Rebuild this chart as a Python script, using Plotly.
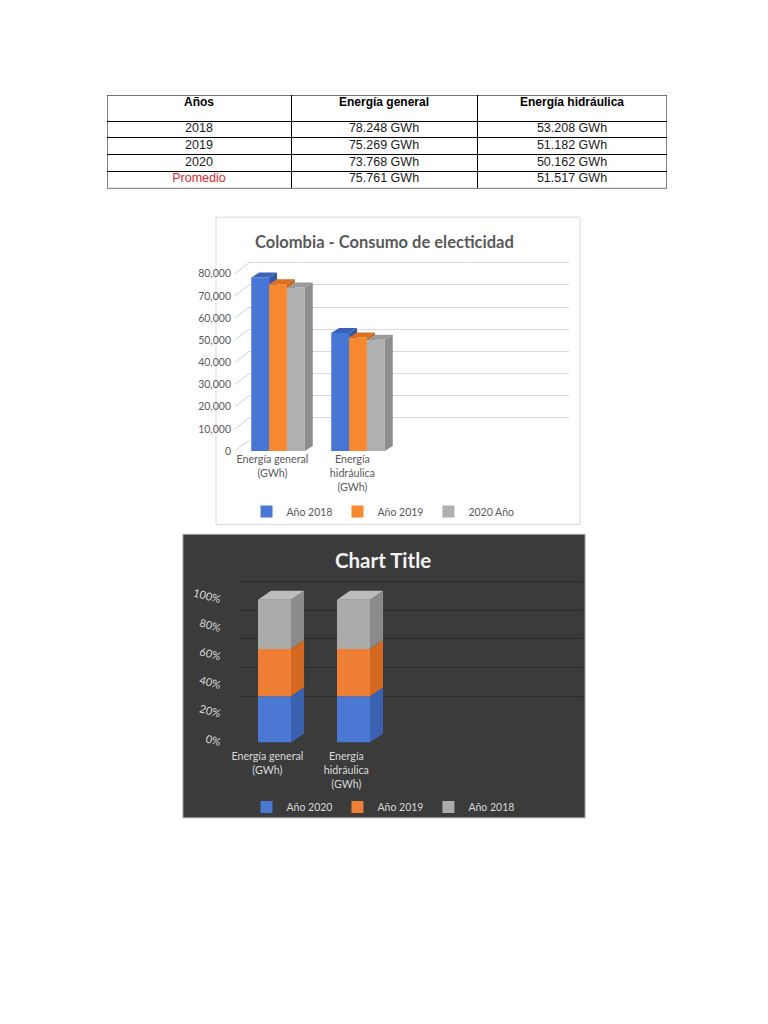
import plotly.graph_objects as go

# the page puts the plot 8px in from the corner, so map page pixels to figure pixels
OX, OY = 8, 7
W, H = 760, 1016


def px(x):
    return (x - OX) / W


def py(y):
    return 1 - (y - OY) / H


# ---- data ----
columnas = ["Años", "Energía general", "Energía hidráulica"]
anios = ["2018", "2019", "2020", "Promedio"]
energia_general = ["78.248 GWh", "75.269 GWh", "73.768 GWh", "75.761 GWh"]
energia_hidraulica = ["53.208 GWh", "51.182 GWh", "50.162 GWh", "51.517 GWh"]

categorias = ["Energía general<br>(GWh)", "Energía<br>hidráulica<br>(GWh)"]
consumo_general = [78248, 75269, 73768]      # 2018, 2019, 2020
consumo_hidraulica = [53208, 51182, 50162]   # 2018, 2019, 2020

nombres_chart1 = ["Año 2018", "Año 2019", "2020 Año"]
nombres_chart2 = ["Año 2020", "Año 2019", "Año 2018"]   # bottom -> top
ticks_chart1 = [0, 10000, 20000, 30000, 40000, 50000, 60000, 70000, 80000]
ticks_chart2 = [0, 20, 40, 60, 80, 100]

# colours: front, top, side
colores1 = [
    ["#4677d6", "#3a63b8", "#3458a6"],
    ["#f7882f", "#dc7020", "#c9641c"],
    ["#b0b0b0", "#9c9c9c", "#8e8e8e"],
]
colores2 = [
    ["#4a78d2", "#3c64b4", "#3a62b0"],
    ["#ef7f34", "#d66c24", "#d46a22"],
    ["#ababab", "#bcbcbc", "#8b8b8b"],
]

chart_font = "Lato"
table_font = "Liberation Sans"
gris_txt = "#595959"
claro_txt = "#d9d9d9"

fig = go.Figure()

# ---- table (text on its own little axis, cell borders are the gridlines) ----
col_w = [184, 186, 190]
row_h = [26, 17, 17, 17, 17]
col_edges = [sum(col_w[:i]) for i in range(len(col_w) + 1)]
row_edges = [sum(row_h[:i]) for i in range(len(row_h) + 1)]
col_mid = [(a + b) / 2 for a, b in zip(col_edges[:-1], col_edges[1:])]
row_mid = [(a + b) / 2 - 0.7 for a, b in zip(row_edges[1:-1], row_edges[2:])]

fig.add_trace(go.Scatter(
    x=col_mid, y=[row_edges[0] + 7.8] * len(columnas),
    text=[f"<b>{c}</b>" for c in columnas], mode="text",
    textfont=dict(family=table_font, size=12, color="black"),
    xaxis="x5", yaxis="y5", showlegend=False, hoverinfo="skip",
))
negro = "#1a1a1a"
rojo = "#e8262a"
for j, col in enumerate([anios, energia_general, energia_hidraulica]):
    fig.add_trace(go.Scatter(
        x=[col_mid[j]] * len(col), y=row_mid, text=col, mode="text",
        textfont=dict(family=table_font, size=12.5,
                      color=[rojo if v == "Promedio" else negro for v in col]),
        xaxis="x5", yaxis="y5", showlegend=False, hoverinfo="skip",
    ))

# ---- chart 1 : clustered 3D-looking columns ----
xs = [0, 1]
valores1 = [list(v) for v in zip(consumo_general, consumo_hidraulica)]
w1 = 0.223
dx1, dy1 = 0.1, 2235
for i, (nombre, vals) in enumerate(zip(nombres_chart1, valores1)):
    off = (i - 1.5) * w1
    front, top, side = colores1[i]
    fig.add_trace(go.Bar(
        x=xs, y=vals, width=w1, offset=off, name=nombre,
        marker=dict(color=front, line_width=0),
        xaxis="x", yaxis="y", legend="legend", zorder=2 * i + 1,
    ))
    tx, ty, sx, sy = [], [], [], []
    for x, v in zip(xs, vals):
        l = x + off
        r = l + w1
        tx += [l, r, r + dx1, l + dx1, l, None]
        ty += [v, v, v + dy1, v + dy1, v, None]
        sx += [r, r, r + dx1, r + dx1, r, None]
        sy += [0, v, v + dy1, dy1, 0, None]
    for fx, fy, fc in [(sx, sy, side), (tx, ty, top)]:
        fig.add_trace(go.Scatter(
            x=fx, y=fy, fill="toself", fillcolor=fc, mode="none",
            showlegend=False, hoverinfo="skip", cliponaxis=False,
            xaxis="x", yaxis="y", zorder=2 * i + 2,
        ))

x1_range = [-(278 - 235) / 80, (560 - 278) / 80]
y1_range = [0, (451 - 255) * 80000 / 179]

# little diagonal edges of the side wall
diag_x, diag_y = [], []
for t in ticks_chart1:
    diag_x += [x1_range[0], x1_range[0] + 14 / 80, None]
    diag_y += [t, t + 11 * 80000 / 179, None]
fig.add_trace(go.Scatter(
    x=diag_x, y=diag_y, mode="lines", line=dict(color="#d0d0d0", width=1),
    showlegend=False, hoverinfo="skip", cliponaxis=False,
    xaxis="x", yaxis="y", zorder=1,
))
# back wall (gridlines only)
fig.add_trace(go.Scatter(x=[], y=[], xaxis="x3", yaxis="y3", showlegend=False))

# ---- chart 2 : 100% stacked 3D-looking columns ----
valores2 = [[g, h] for g, h in zip(consumo_general[::-1], consumo_hidraulica[::-1])]
totales = [sum(v[c] for v in valores2) for c in range(2)]
w2 = 0.418
dx2, dy2 = 0.165, 6.25
bases = [0, 0]
for i, (nombre, vals) in enumerate(zip(nombres_chart2, valores2)):
    pct = [v / t * 100 for v, t in zip(vals, totales)]
    front, top, side = colores2[i]
    fig.add_trace(go.Bar(
        x=xs, y=pct, base=list(bases), width=w2, offset=-w2 / 2, name=nombre,
        marker=dict(color=front, line_width=0),
        xaxis="x2", yaxis="y2", legend="legend2", zorder=2 * i + 1,
    ))
    sx, sy, tx, ty = [], [], [], []
    for x, b, p in zip(xs, bases, pct):
        l = x - w2 / 2
        r = x + w2 / 2
        sx += [r, r, r + dx2, r + dx2, r, None]
        sy += [b, b + p, b + p + dy2, b + dy2, b, None]
        tx += [l, r, r + dx2, l + dx2, l, None]
        ty += [b + p, b + p, b + p + dy2, b + p + dy2, b + p, None]
    faces = [(sx, sy, side)]
    if i == len(valores2) - 1:
        faces.append((tx, ty, top))
    for fx, fy, fc in faces:
        fig.add_trace(go.Scatter(
            x=fx, y=fy, fill="toself", fillcolor=fc, mode="none",
            showlegend=False, hoverinfo="skip", cliponaxis=False,
            xaxis="x2", yaxis="y2", zorder=2 * i + 2,
        ))
    bases = [b + p for b, p in zip(bases, pct)]

fig.add_trace(go.Scatter(x=[], y=[], xaxis="x4", yaxis="y4", showlegend=False))

x2_range = [-(274.5 - 225) / 79, (575 - 274.5) / 79]
y2_range = [0, (745 - 590) / 1.44]

hidden = dict(showgrid=False, zeroline=False, showticklabels=False, ticks="")
table_axis = dict(showgrid=True, gridcolor="black", gridwidth=1, zeroline=False,
                  showticklabels=False, ticks="", fixedrange=True)

fig.update_layout(
    width=W, height=H,
    margin=dict(l=0, r=0, t=0, b=0),
    paper_bgcolor="white",
    plot_bgcolor="rgba(0,0,0,0)",
    barmode="overlay",
    font=dict(family=chart_font),
    showlegend=True,
    xaxis5=dict(domain=[px(107), px(667)], range=[0, col_edges[-1]], anchor="y5",
                tickvals=col_edges, **table_axis),
    yaxis5=dict(domain=[py(186), py(92)], range=[row_edges[-1], 0], anchor="x5",
                tickvals=row_edges, **table_axis),
    xaxis=dict(
        domain=[px(235), px(560)], range=x1_range, anchor="y",
        tickvals=[x - 0.07 for x in xs], ticktext=categorias,
        showgrid=False, zeroline=False, showline=False, ticks="",
        tickfont=dict(size=10.7, color=gris_txt), fixedrange=True,
    ),
    yaxis=dict(
        domain=[py(451), py(255)], range=y1_range, anchor="x",
        tickvals=ticks_chart1, tickformat=",",
        showgrid=False, zeroline=False, showline=False, ticks="",
        ticklabelstandoff=3,
        tickfont=dict(size=10.5, color=gris_txt), fixedrange=True,
    ),
    xaxis3=dict(domain=[px(249), px(569)], range=[0, 1], anchor="y3", **hidden),
    yaxis3=dict(
        domain=[py(440), py(244)], range=y1_range, anchor="x3",
        tickvals=ticks_chart1, showticklabels=False, ticks="",
        showgrid=True, gridcolor="#d9d9d9", gridwidth=1, zeroline=False,
    ),
    xaxis2=dict(
        domain=[px(225), px(575)], range=x2_range, anchor="y2",
        tickvals=[x - 0.09 for x in xs], ticktext=categorias,
        showgrid=False, zeroline=False, showline=False, ticks="",
        ticklabelstandoff=6,
        tickfont=dict(size=10.7, color=claro_txt), fixedrange=True,
    ),
    yaxis2=dict(
        domain=[py(745), py(590)], range=y2_range, anchor="x2",
        tickvals=ticks_chart2, ticktext=[f"{t}%" for t in ticks_chart2],
        tickangle=15,
        showgrid=False, zeroline=False, showline=False, ticks="",
        ticklabelstandoff=3,
        tickfont=dict(size=11, color=claro_txt), fixedrange=True,
    ),
    xaxis4=dict(domain=[px(240), px(583)], range=[0, 1], anchor="y4", **hidden),
    yaxis4=dict(
        domain=[py(727), py(572)], range=y2_range, anchor="x4",
        tickvals=ticks_chart2, showticklabels=False, ticks="",
        showgrid=True, gridcolor="#2b2b2b", gridwidth=1, zeroline=False,
    ),
    legend=dict(
        x=px(383), y=py(512), xanchor="center", yanchor="middle",
        orientation="h", font=dict(size=10.5, color=gris_txt),
        bgcolor="rgba(0,0,0,0)", itemwidth=30,
    ),
    legend2=dict(
        x=px(383), y=py(810), xanchor="center", yanchor="middle",
        orientation="h", font=dict(size=10.5, color=claro_txt),
        bgcolor="rgba(0,0,0,0)", itemwidth=30,
    ),
    shapes=[
        # outer border of the table
        dict(type="rect", xref="x5", yref="y5",
             x0=col_edges[0], x1=col_edges[-1], y0=row_edges[0], y1=row_edges[-1],
             line=dict(color="black", width=1), layer="above"),
        dict(type="rect", xref="paper", yref="paper",
             x0=px(216), x1=px(580), y0=py(525), y1=py(215),
             line=dict(color="#d9d9d9", width=1), fillcolor="white", layer="below"),
        dict(type="rect", xref="paper", yref="paper",
             x0=px(183), x1=px(585), y0=py(821), y1=py(535),
             line=dict(color="#a0a0a0", width=1), fillcolor="#3b3b3b", layer="below"),
    ],
    annotations=[
        dict(text="<b>Colombia - Consumo de electicidad</b>", x=px(384), y=py(240),
             xref="paper", yref="paper", xanchor="center", yanchor="middle",
             showarrow=False, font=dict(size=16.5, color=gris_txt, family=chart_font)),
        dict(text="<b>Chart Title</b>", x=px(383), y=py(561),
             xref="paper", yref="paper", xanchor="center", yanchor="middle",
             showarrow=False, font=dict(size=20.5, color="#f2f2f2", family=chart_font)),
    ],
)

fig.write_html("out.html")
